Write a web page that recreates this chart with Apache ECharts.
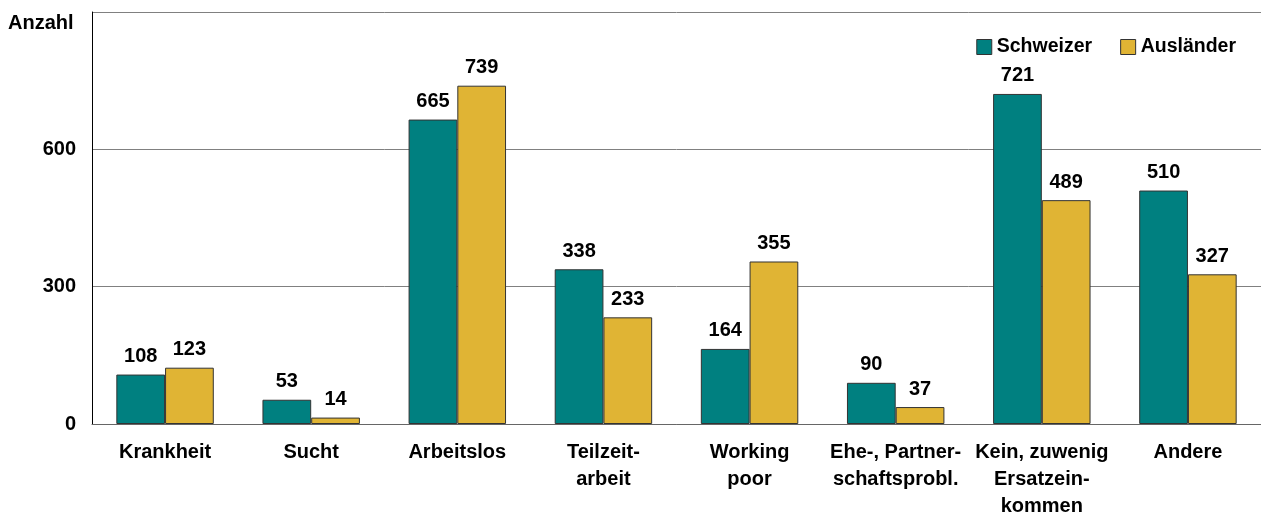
<!DOCTYPE html>
<html>
<head>
<meta charset="utf-8">
<script src="https://cdn.jsdelivr.net/npm/echarts@6/dist/echarts.min.js"></script>
<style>
html,body{margin:0;padding:0;background:#fff;}
#chart{width:1261px;height:520px;}
</style>
</head>
<body>
<div id="chart"></div>
<script>
const categories = ['Krankheit', 'Sucht', 'Arbeitslos', 'Teilzeit-\narbeit', 'Working\npoor', 'Ehe-, Partner-\nschaftsprobl.', 'Kein, zuwenig\nErsatzein-\nkommen', 'Andere'];
const schweizer = [108, 53, 665, 338, 164, 90, 721, 510];
const auslaender = [123, 14, 739, 233, 355, 37, 489, 327];
const seriesNames = ['Schweizer', 'Ausländer'];
const yTicks = [0, 300, 600, 900];

const FONT = '"Liberation Sans", Arial, sans-serif';
const FS = 20;
const chart = echarts.init(document.getElementById('chart'), null, {renderer: 'canvas'});

const labelStyle = {
  show: true, position: 'top', distance: 8,
  fontFamily: FONT, fontWeight: 'bold', fontSize: FS, color: '#000'
};

chart.setOption({
  animation: false,
  backgroundColor: '#fff',
  graphic: [{
    type: 'text', left: 8, top: 13,
    style: {text: 'Anzahl', font: 'bold ' + FS + 'px ' + FONT, fill: '#000'}
  }],
  legend: {
    data: seriesNames,
    right: 20, top: 32,
    itemWidth: 15, itemHeight: 15, itemGap: 28,
    icon: 'rect',
    textStyle: {fontFamily: FONT, fontWeight: 'bold', fontSize: 19.5, color: '#000'},
    itemStyle: {borderColor: '#333', borderWidth: 1}
  },
  grid: {left: 92, top: 12, bottom: 92, right: -7, containLabel: false},
  xAxis: {
    type: 'category',
    data: categories,
    axisLine: {lineStyle: {color: '#666', width: 1}},
    axisTick: {show: false},
    axisLabel: {
      interval: 0, margin: 15,
      fontFamily: FONT, fontWeight: 'bold', fontSize: FS, color: '#000', lineHeight: 27
    }
  },
  yAxis: {
    type: 'value',
    min: yTicks[0], max: yTicks[yTicks.length - 1], interval: 300,
    axisLine: {show: true, lineStyle: {color: '#000', width: 1}},
    axisTick: {show: false},
    splitLine: {show: true, lineStyle: {color: '#808080', width: 1}},
    axisLabel: {
      margin: 16,
      fontFamily: FONT, fontWeight: 'bold', fontSize: FS, color: '#000',
      formatter: v => (v === yTicks[yTicks.length - 1] ? '' : String(v))
    }
  },
  series: [
    {
      name: seriesNames[0], type: 'bar', data: schweizer,
      barGap: '0%', barCategoryGap: '33.3%',
      itemStyle: {color: '#008080', borderColor: '#333', borderWidth: 1},
      label: labelStyle
    },
    {
      name: seriesNames[1], type: 'bar', data: auslaender,
      barGap: '0%', barCategoryGap: '33.3%',
      itemStyle: {color: '#E0B434', borderColor: '#333', borderWidth: 1},
      label: labelStyle
    }
  ]
});
</script>
</body>
</html>
